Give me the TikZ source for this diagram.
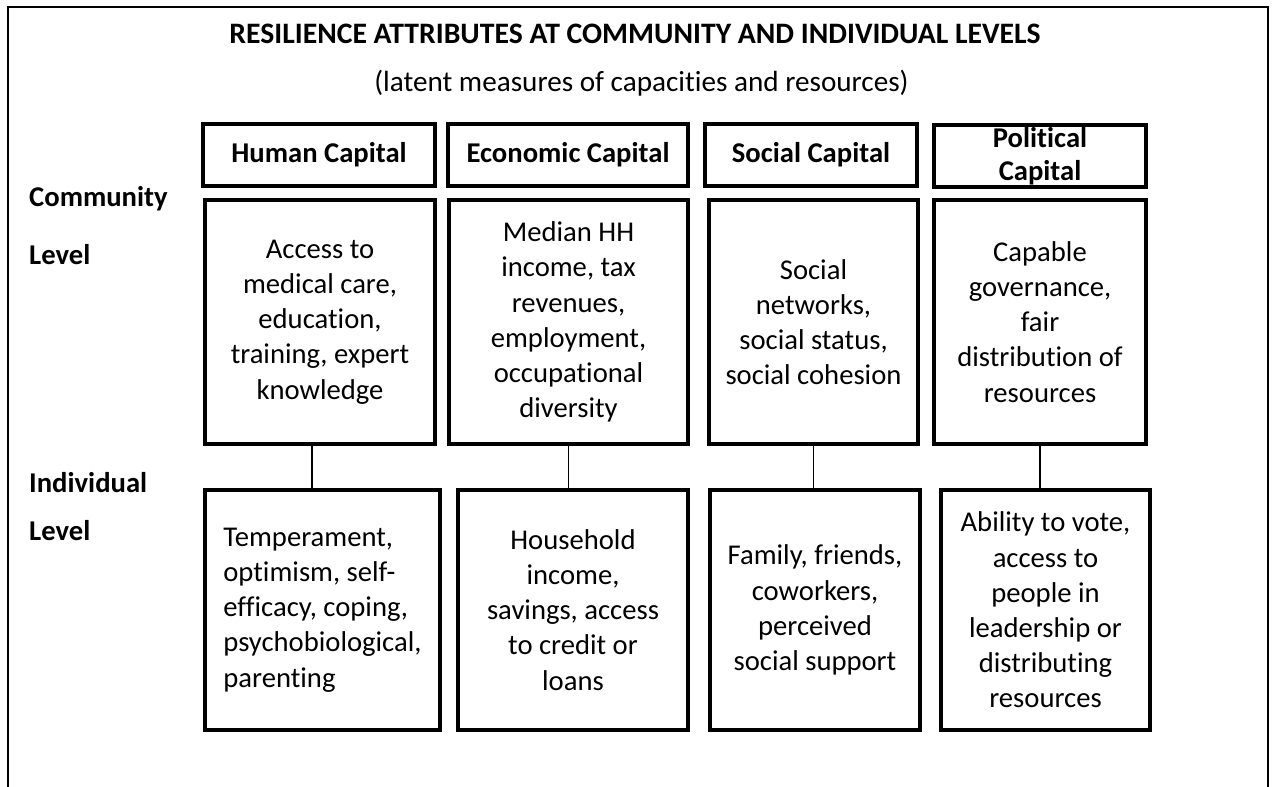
\documentclass[tikz,border=0pt]{standalone}
\usepackage{fontspec}
\setmainfont{Carlito}[Ligatures={NoCommon,NoRare,NoDiscretionary}, Contextuals=NoAlternate]
\usetikzlibrary{positioning}

\begin{document}
\begin{tikzpicture}[
            % styles for the boxes and links
            cell/.style={draw, line width=2.3pt, align=center, inner sep=0pt,
                font=\fontsize{16.3}{20}\selectfont},
            head/.style={cell, font=\fontsize{16.3}{19}\selectfont\bfseries},
            level/.style={anchor=base west, font=\fontsize{16.3}{20}\selectfont\bfseries},
            link/.style={line width=0.8pt},
            ]

            \useasboundingbox (0,0) rectangle (25.44,-15.74);

            % Frame (open at the bottom)
            \draw[line width=1.1pt] (0.16,-15.74) -- (0.16,-0.14) -- (25.36,-0.14) -- (25.36,-15.74);

            % Title
            \node[anchor=base, font=\fontsize{16.9}{20}\selectfont\bfseries] (T) at (12.70,-0.87)
                {RESILIENCE ATTRIBUTES AT COMMUNITY AND INDIVIDUAL LEVELS};
            \node[anchor=base, font=\fontsize{16.6}{20}\selectfont] (S) at (12.83,-1.84)
                {(latent measures of capacities and resources)};

            % Levels
            \node[level] (L1) at (0.46,-4.14) {Community};
            \node[level] (L2) at (0.46,-5.30) {Level};
            \node[level] (L3) at (0.46,-9.84) {Individual};
            \node[level] (L4) at (0.46,-10.80) {Level};

            % Capital headers
            \node[head, minimum width=4.64cm, minimum height=1.24cm] (hH) at (6.38,-3.10) {Human Capital};
            \node[head, minimum width=4.80cm, minimum height=1.24cm] (hE) at (11.36,-3.10) {Economic Capital};
            \node[head, minimum width=4.24cm, minimum height=1.24cm] (hS) at (16.22,-3.10) {Social Capital};
            \node[head, minimum width=4.24cm, minimum height=1.24cm] (hP) at (20.80,-3.12) {Political\\Capital};

            % Community level
            \node[cell, minimum width=4.60cm, minimum height=4.88cm] (cH) at (6.40,-6.44)
                {Access to\\medical care,\\education,\\training, expert\\knowledge};
            \node[cell, minimum width=4.78cm, minimum height=4.88cm] (cE) at (11.37,-6.44)
                {Median HH\\income, tax\\revenues,\\employment,\\occupational\\diversity};
            \node[cell, minimum width=4.18cm, minimum height=4.88cm] (cS) at (16.27,-6.44)
                {Social\\networks,\\social status,\\social cohesion};
            \node[cell, minimum width=4.24cm, minimum height=4.88cm] (cP) at (20.80,-6.44)
                {Capable\\governance,\\fair\\distribution of\\resources};

            % Individual level
            \node[cell, align=left, minimum width=4.70cm, minimum height=4.80cm] (iH) at (6.45,-12.20)
                {Temperament,\\optimism, self-\\efficacy, coping,\\psychobiological,\\parenting};
            \node[cell, minimum width=4.60cm, minimum height=4.80cm] (iE) at (11.46,-12.20)
                {Household\\income,\\savings, access\\to credit or\\loans};
            \node[cell, minimum width=4.20cm, minimum height=4.80cm] (iS) at (16.30,-12.20)
                {Family, friends,\\coworkers,\\perceived\\social support};
            \node[cell, minimum width=4.18cm, minimum height=4.80cm] (iP) at (20.91,-12.20)
                {Ability to vote,\\access to\\people in\\leadership or\\distributing\\resources};

            % Connect community to individual
            \draw[link] ([xshift=-0.16cm]cH.south) -- ([xshift=-0.16cm]cH.south |- iH.north);
            \foreach \k in {E,S,P}
                \draw[link] (c\k.south) -- (c\k.south |- i\k.north);

        \end{tikzpicture}
\end{document}
